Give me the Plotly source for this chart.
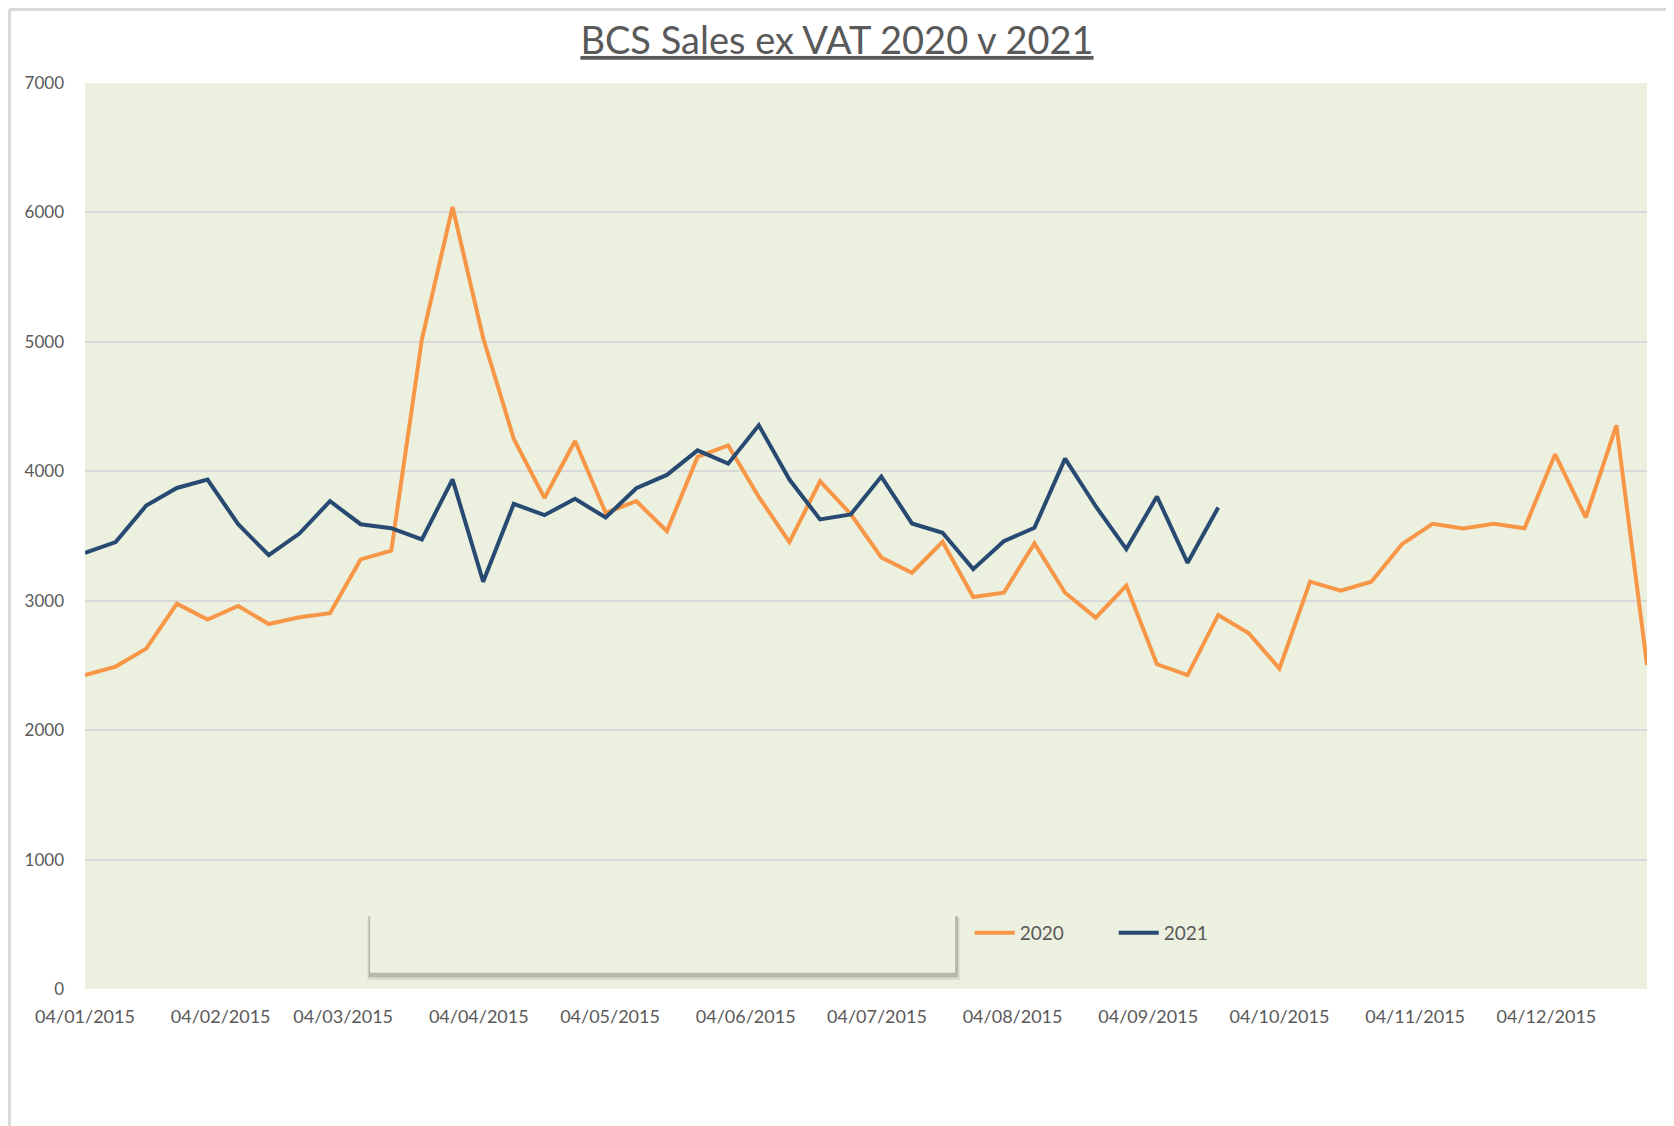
import pandas as pd
import plotly.graph_objects as go

# ---- data ----
weeks_2020 = pd.date_range("2015-01-04", periods=52, freq="7D")
weeks_2021 = pd.date_range("2015-01-04", periods=38, freq="7D")

sales_2020 = [2425, 2491, 2630, 2977, 2854, 2959, 2820, 2872, 2903, 3319,
              3386, 5020, 6042, 5030, 4250, 3794, 4234, 3679, 3769, 3537,
              4111, 4200, 3802, 3453, 3923, 3670, 3334, 3216, 3455, 3029,
              3062, 3443, 3062, 2869, 3116, 2509, 2425, 2890, 2748, 2476,
              3147, 3077, 3147, 3437, 3594, 3558, 3594, 3560, 4131, 3643,
              4355, 2504]
sales_2021 = [3370, 3453, 3735, 3871, 3936, 3591, 3352, 3519, 3769, 3591,
              3560, 3473, 3938, 3147, 3748, 3661, 3787, 3643, 3869, 3972,
              4162, 4059, 4355, 3936, 3628, 3666, 3959, 3597, 3525, 3244,
              3460, 3563, 4098, 3730, 3399, 3805, 3293, 3720]

series_names = ["2020", "2021"]
y_ticks = [0, 1000, 2000, 3000, 4000, 5000, 6000, 7000]
title_text = "BCS Sales ex VAT 2020 v 2021"

ORANGE = "#F79646"
NAVY = "#284A72"
BG = "#EBF0DF"
BOX = "#EDF1E2"
GRID = "#D9D9D9"
TXT = "#595959"
FONT = "Lato, 'Open Sans', sans-serif"

fig = go.Figure()
fig.add_trace(go.Scatter(x=weeks_2020, y=sales_2020, name=series_names[0], mode="lines",
                         line=dict(color=ORANGE, width=4)))
fig.add_trace(go.Scatter(x=weeks_2021, y=sales_2021, name=series_names[1], mode="lines",
                         line=dict(color=NAVY, width=4)))

# decorative empty box with soft shadow (leftover text box in original)
fig.add_shape(type="rect", xref="paper", yref="paper",
              x0=0.1808, x1=0.5600, y0=0.0100, y1=0.0790,
              fillcolor="rgba(90,95,80,0.12)", line=dict(width=0), layer="above")
fig.add_shape(type="rect", xref="paper", yref="paper",
              x0=0.1815, x1=0.5590, y0=0.0128, y1=0.0806,
              fillcolor="rgba(90,95,80,0.28)", line=dict(width=0), layer="above")
fig.add_shape(type="rect", xref="paper", yref="paper",
              x0=0.1825, x1=0.5570, y0=0.0180, y1=0.0872,
              fillcolor=BOX, line=dict(width=0), layer="above")

# outer chart border (left + top)
fig.add_shape(type="line", xref="paper", yref="paper",
              x0=-0.0483, x1=-0.0483, y0=-0.16, y1=1.0811,
              line=dict(color="#D9D9D9", width=3))
fig.add_shape(type="line", xref="paper", yref="paper",
              x0=-0.0483, x1=1.02, y0=1.0811, y1=1.0811,
              line=dict(color="#D9D9D9", width=3))

fig.update_layout(
    width=1666, height=1118,
    margin=dict(l=77, r=27, t=75, b=137, autoexpand=False),
    paper_bgcolor="white",
    plot_bgcolor=BG,
    font=dict(family=FONT, color=TXT, size=17),
    title=dict(text="<u>" + title_text + "</u>", x=0.4976, xref="container", xanchor="center",
               y=0.9708, yref="container", yanchor="middle",
               font=dict(family=FONT, size=38, color=TXT)),
    showlegend=True,
    legend=dict(orientation="h", x=0.5664, xanchor="left", y=0.062, yanchor="middle",
                bgcolor="rgba(0,0,0,0)", font=dict(size=19, color=TXT),
                itemwidth=40, entrywidth=89, entrywidthmode="pixels",
                traceorder="normal"),
    hovermode=False,
)

fig.update_xaxes(
    type="date",
    range=["2015-01-04", "2015-12-27"],
    tick0="2015-01-04", dtick="M1", tickformat="%d/%m/%Y",
    showgrid=False, zeroline=False, showline=False,
    ticks="", tickfont=dict(size=18, color=TXT), ticklabelstandoff=15,
)
fig.update_yaxes(
    range=[0, 7000], tickvals=y_ticks,
    showgrid=True, gridcolor=GRID, gridwidth=2,
    zeroline=False, showline=False, ticks="",
    tickfont=dict(size=17, color=TXT), ticklabelstandoff=20,
)

fig.write_html("out.html", config={"displayModeBar": False})
